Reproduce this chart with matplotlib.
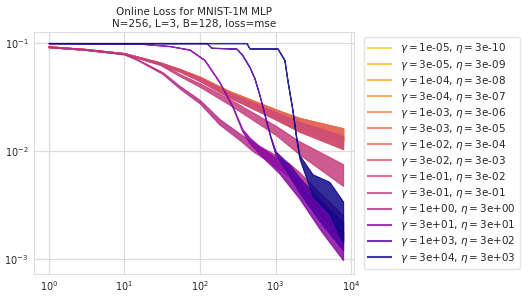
import numpy as np
import matplotlib
matplotlib.use("Agg")
import matplotlib.pyplot as plt

# gamma / eta pairs in legend order
gammas = [1e-5, 3e-5, 1e-4, 3e-4, 1e-3, 3e-3, 1e-2, 3e-2, 1e-1, 3e-1, 1e0, 3e1, 1e3, 3e4]
etas = [3e-10, 3e-9, 3e-8, 3e-7, 3e-6, 3e-5, 3e-4, 3e-3, 3e-2, 3e-1, 3e0, 3e1, 3e2, 3e3]
# which traced curve each run follows (small gammas all sit in the lazy band)
curve_of_run = ["a1"] * 7 + ["a2", "a2", "b", "c", "d", "e", "f"]

# traced curves: steps, typical loss, half width of noise band (log10)
steps_a = [1, 3, 10, 30, 54, 100, 246, 1000, 2070, 7812]
loss_a1 = [0.0925, 0.0875, 0.080, 0.065, 0.056, 0.047, 0.034, 0.0225, 0.0182, 0.0141]
loss_a2 = [0.0925, 0.0875, 0.080, 0.065, 0.056, 0.046, 0.033, 0.0212, 0.0168, 0.0120]
spread_a = [0.003, 0.003, 0.003, 0.006, 0.01, 0.015, 0.022, 0.033, 0.045, 0.06]

steps_b = [1, 3, 10, 30, 54, 100, 246, 1000, 2070, 7812]
loss_b = [0.0925, 0.0875, 0.080, 0.0635, 0.0506, 0.0408, 0.0286, 0.0156, 0.0107, 0.0060]
spread_b = [0.003, 0.003, 0.003, 0.006, 0.01, 0.016, 0.026, 0.042, 0.06, 0.1]

steps_c = [1, 3, 10, 15, 32, 54, 100, 181, 334, 495, 830, 1520, 2070, 4000, 7812]
loss_c = [0.0925, 0.0875, 0.079, 0.070, 0.0528, 0.039, 0.0286, 0.0187, 0.0136, 0.011,
          0.00885, 0.00667, 0.0054, 0.00316, 0.00194]
spread_c = [0.003, 0.003, 0.003, 0.004, 0.008, 0.012, 0.016, 0.025, 0.03, 0.04,
            0.05, 0.06, 0.07, 0.1, 0.12]

steps_d = [1, 16, 40, 73, 115, 181, 270, 364, 452, 612, 1130, 2070, 4000, 7812]
loss_d = [0.1, 0.0989, 0.0938, 0.087, 0.0697, 0.0435, 0.0257, 0.0156, 0.0126, 0.0102,
          0.0071, 0.00436, 0.00229, 0.00132]
spread_d = [0, 0, 0.001, 0.002, 0.002, 0.003, 0.005, 0.01, 0.025, 0.035, 0.06, 0.08, 0.1, 0.13]

steps_e = [1, 122, 142, 303, 364, 452, 525, 612, 735, 856, 1000, 1520, 2070, 4000, 7812]
loss_e = [0.1, 0.1, 0.0905, 0.0889, 0.0774, 0.060, 0.0474, 0.0331, 0.0202, 0.0135,
          0.0096, 0.00667, 0.00484, 0.00272, 0.00163]
spread_e = [0, 0, 0, 0.001, 0.002, 0.002, 0.003, 0.003, 0.005, 0.008, 0.015, 0.05, 0.07, 0.1, 0.13]

steps_f = [1, 413, 452, 1060, 1310, 1434, 1672, 1870, 2070, 3080, 5150, 7812]
loss_f = [0.1, 0.1, 0.0893, 0.0893, 0.0697, 0.0454, 0.024, 0.0135, 0.00885, 0.00484,
          0.00367, 0.0022]
spread_f = [0, 0, 0, 0, 0.002, 0.003, 0.005, 0.008, 0.015, 0.1, 0.15, 0.19]

curves = {
    "a1": (steps_a, loss_a1, spread_a),
    "a2": (steps_a, loss_a2, spread_a),
    "b": (steps_b, loss_b, spread_b),
    "c": (steps_c, loss_c, spread_c),
    "d": (steps_d, loss_d, spread_d),
    "e": (steps_e, loss_e, spread_e),
    "f": (steps_f, loss_f, spread_f),
}

plt.rcParams["font.family"] = ["DejaVu Sans"]
plt.rcParams["font.size"] = 7
plt.rcParams["text.color"] = "#262626"
plt.rcParams["xtick.color"] = "#262626"
plt.rcParams["ytick.color"] = "#262626"

fig = plt.figure(figsize=(5.31, 2.97), dpi=100)
ax = fig.add_axes([0.064, 0.077, 0.603, 0.815])

lg = np.log10(gammas)
cmap = plt.get_cmap("plasma")

for g, eta, key, l in zip(gammas, etas, curve_of_run, lg):
    col = cmap(0.9 * (lg.max() - l) / (lg.max() - lg.min()))
    x, mid, hw = curves[key]
    mid = np.array(mid)
    hw = np.array(hw)
    ax.fill_between(x, mid * 10 ** (-hw), mid * 10 ** hw,
                    facecolor=col, edgecolor=col, lw=0.9, alpha=0.85)
    ax.plot([], [], color=col, lw=1.5, alpha=0.8,
            label=rf"$\gamma=${g:.0e}, $\eta=${eta:.0e}")

ax.set_xscale("log")
ax.set_yscale("log")
ax.set_xlim(10 ** -0.195, 10 ** 4.04)
ax.set_ylim(10 ** -3.14, 10 ** -0.898)
ax.minorticks_off()
ax.grid(True, color="#dddddd", lw=0.9)
ax.set_axisbelow(True)
for s in ax.spines.values():
    s.set_color("#dddddd")
ax.tick_params(length=0, pad=4, labelsize=7)

ax.set_title("Online Loss for MNIST-1M MLP\nN=256, L=3, B=128, loss=mse",
             fontsize=7.5, pad=4)

ax.legend(loc="upper left", bbox_to_anchor=(1.015, 1.0), fontsize=7.5,
          frameon=True, edgecolor="#dddddd", fancybox=True,
          handlelength=2.2, labelspacing=0.2, borderaxespad=0.5,
          borderpad=0.4)

plt.savefig("out.png", dpi=100)
